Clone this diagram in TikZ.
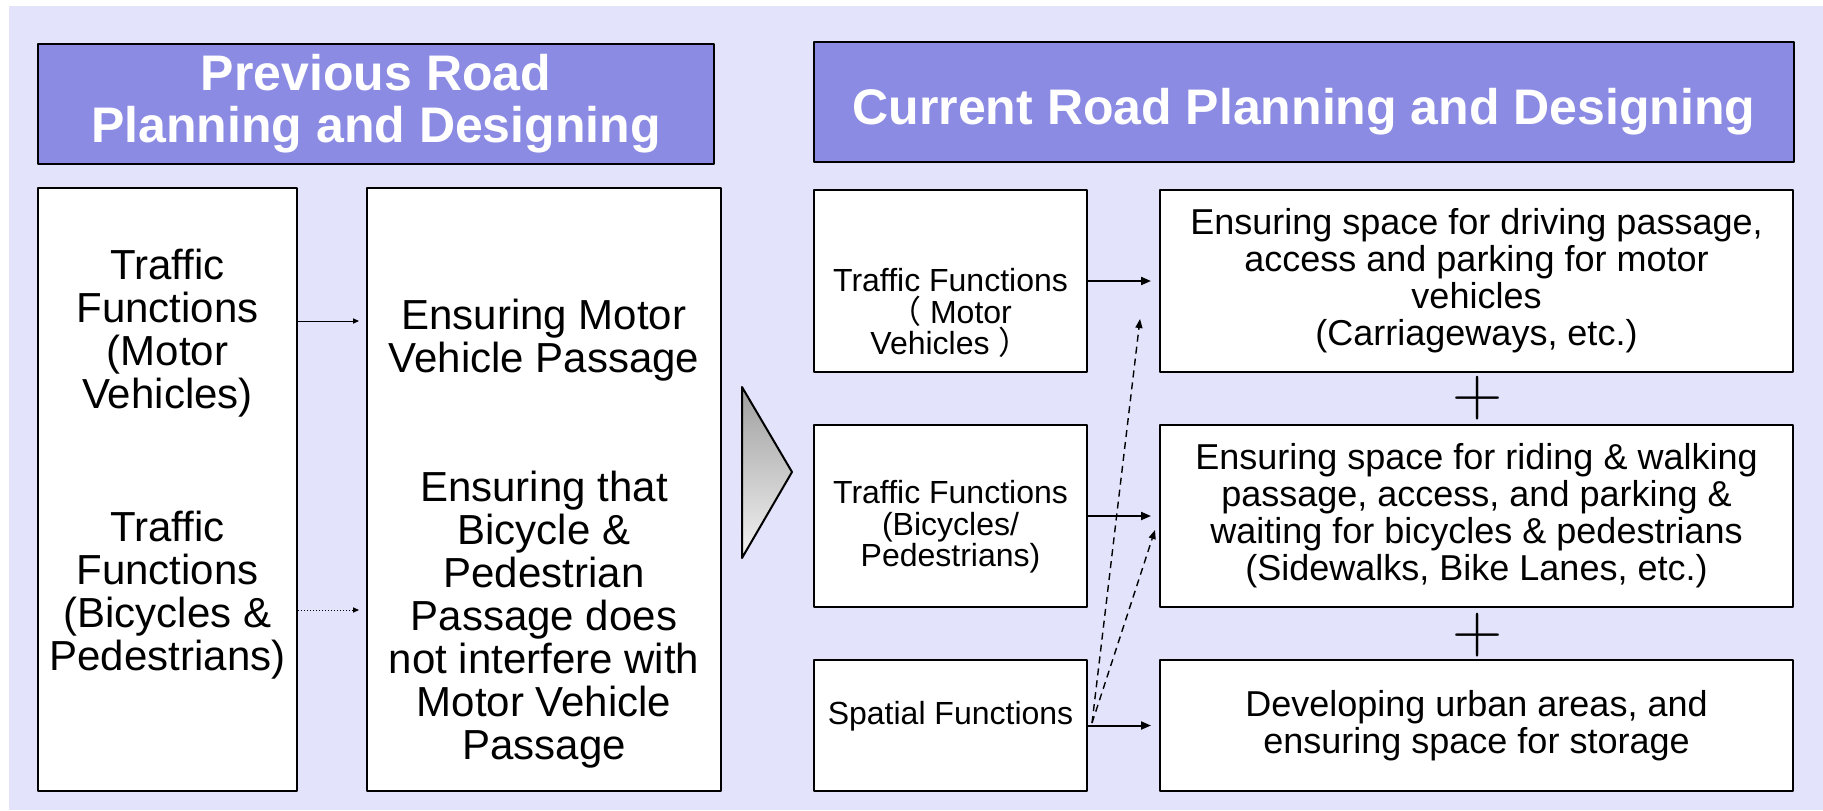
\documentclass[tikz,border=0pt]{standalone}
\usepackage{fontspec}
\setmainfont{Liberation Sans}
\newfontfamily\cjk{Noto Sans CJK SC}
\usetikzlibrary{arrows.meta}
\definecolor{bglav}{RGB}{227,227,252}
\definecolor{headblue}{RGB}{139,139,227}
\tikzset{
  box/.style={draw,line width=1pt,fill=white,inner sep=0pt},
  headbox/.style={box,fill=headblue,text=white,align=center,font=\fontsize{25}{26}\selectfont\bfseries},
  bigtxt/.style={align=center,font=\fontsize{21}{21.5}\selectfont},
  smalltxt/.style={align=center,font=\fontsize{16}{15.75}\selectfont},
  midtxt/.style={align=center,font=\fontsize{18}{18.5}\selectfont},
  thinarr/.style={line width=0.5pt,-{Triangle[length=3pt,width=2.6pt]},shorten >=3.5pt},
  fatarr/.style={line width=1pt,-{Triangle[length=5pt,width=4pt]},shorten >=4pt},
  dasharr/.style={line width=0.7pt,dash pattern=on 3.5pt off 2.5pt,-{Triangle[length=4.5pt,width=3.5pt]}},
  plussign/.style={font=\fontsize{24.88}{25}\selectfont,inner sep=0pt,scale=1.4,transform shape}
}
\begin{document}
\begin{tikzpicture}[x=0.5pt,y=-0.5pt,line join=round]
\useasboundingbox (0,0) rectangle (1823,810);
\fill[bglav] (9,6) rectangle (1823,810);
% headings
\node[headbox,minimum width=338pt,minimum height=60pt] (prevhd) at (376,104) {Previous Road\\Planning and Designing};
\node[headbox,minimum width=490pt,minimum height=60pt,text height=28pt] (currhd) at (1304,102) {Current Road Planning and Designing};
% previous planning
\node[box,minimum width=129.5pt,minimum height=301.5pt] (oldfn) at (167.5,489.5) {};
\node[box,minimum width=177pt,minimum height=301.5pt] (oldgoal) at (544,489.5) {};
\node[bigtxt] (oldmotor) at (167.5,333) {Traffic\\Functions\\(Motor\\Vehicles)};
\node[bigtxt] (oldbike) at (167.5,595) {Traffic\\Functions\\(Bicycles \&\\Pedestrians)};
\node[bigtxt] (oldpass) at (544,340) {Ensuring Motor\\Vehicle Passage};
\node[bigtxt] (oldnoint) at (544,620) {Ensuring that\\Bicycle \&\\Pedestrian\\Passage does\\not interfere with\\Motor Vehicle\\Passage};
\coordinate (lvl1) at (0,321);
\coordinate (lvl2) at (0,610);
\draw[thinarr] (oldfn.east|-lvl1) -- (oldgoal.west|-lvl1);
\draw[thinarr,densely dotted] (oldfn.east|-lvl2) -- (oldgoal.west|-lvl2);
% big arrow
\draw[line width=1pt,top color=gray!75,bottom color=gray!10] (742,387) -- (792,472) -- (742,558) -- cycle;
% current planning
\node[box,minimum width=136.5pt,minimum height=91pt] (trafmotor) at (950.5,281) {};
\node[box,minimum width=136.5pt,minimum height=91pt] (trafbike) at (950.5,516) {};
\node[box,minimum width=136.5pt,minimum height=65.5pt] (spatial) at (950.5,725.5) {};
\node[smalltxt] (trafmotortxt) at (950.5,313) {Traffic Functions\\{\cjk （} Motor\\Vehicles {\cjk ）}};
\node[smalltxt] (trafbiketxt) at (950.5,527) {Traffic Functions\\(Bicycles/\\Pedestrians)};
\node[smalltxt] (spatialtxt) at (950.5,716) {Spatial Functions};
\node[box,midtxt,minimum width=316.5pt,minimum height=91pt] (drivesp) at (1476.5,281) {Ensuring space for driving passage,\\access and parking for motor\\vehicles\\(Carriageways, etc.)};
\node[box,midtxt,minimum width=316.5pt,minimum height=91pt] (walksp) at (1476.5,516) {Ensuring space for riding \& walking\\passage, access, and parking \&\\waiting for bicycles \& pedestrians\\(Sidewalks, Bike Lanes, etc.)};
\node[box,midtxt,minimum width=316.5pt,minimum height=65.5pt] (urbansp) at (1476.5,725.5) {Developing urban areas, and\\ensuring space for storage};
\node[plussign] (plusa) at (1478,398) {$+$};
\node[plussign] (plusb) at (1478,635) {$+$};
\draw[fatarr] (trafmotor.east) -- (drivesp.west);
\draw[fatarr] (trafbike.east) -- (walksp.west);
\draw[fatarr] (spatial.east) -- (urbansp.west);
\coordinate (spsrc) at (1092,723);
\coordinate (tipdrive) at (1140,319);
\coordinate (tipwalk) at (1155,530);
\draw[dasharr] (spsrc) -- (tipdrive);
\draw[dasharr] (spsrc) -- (tipwalk);
\end{tikzpicture}
\end{document}
